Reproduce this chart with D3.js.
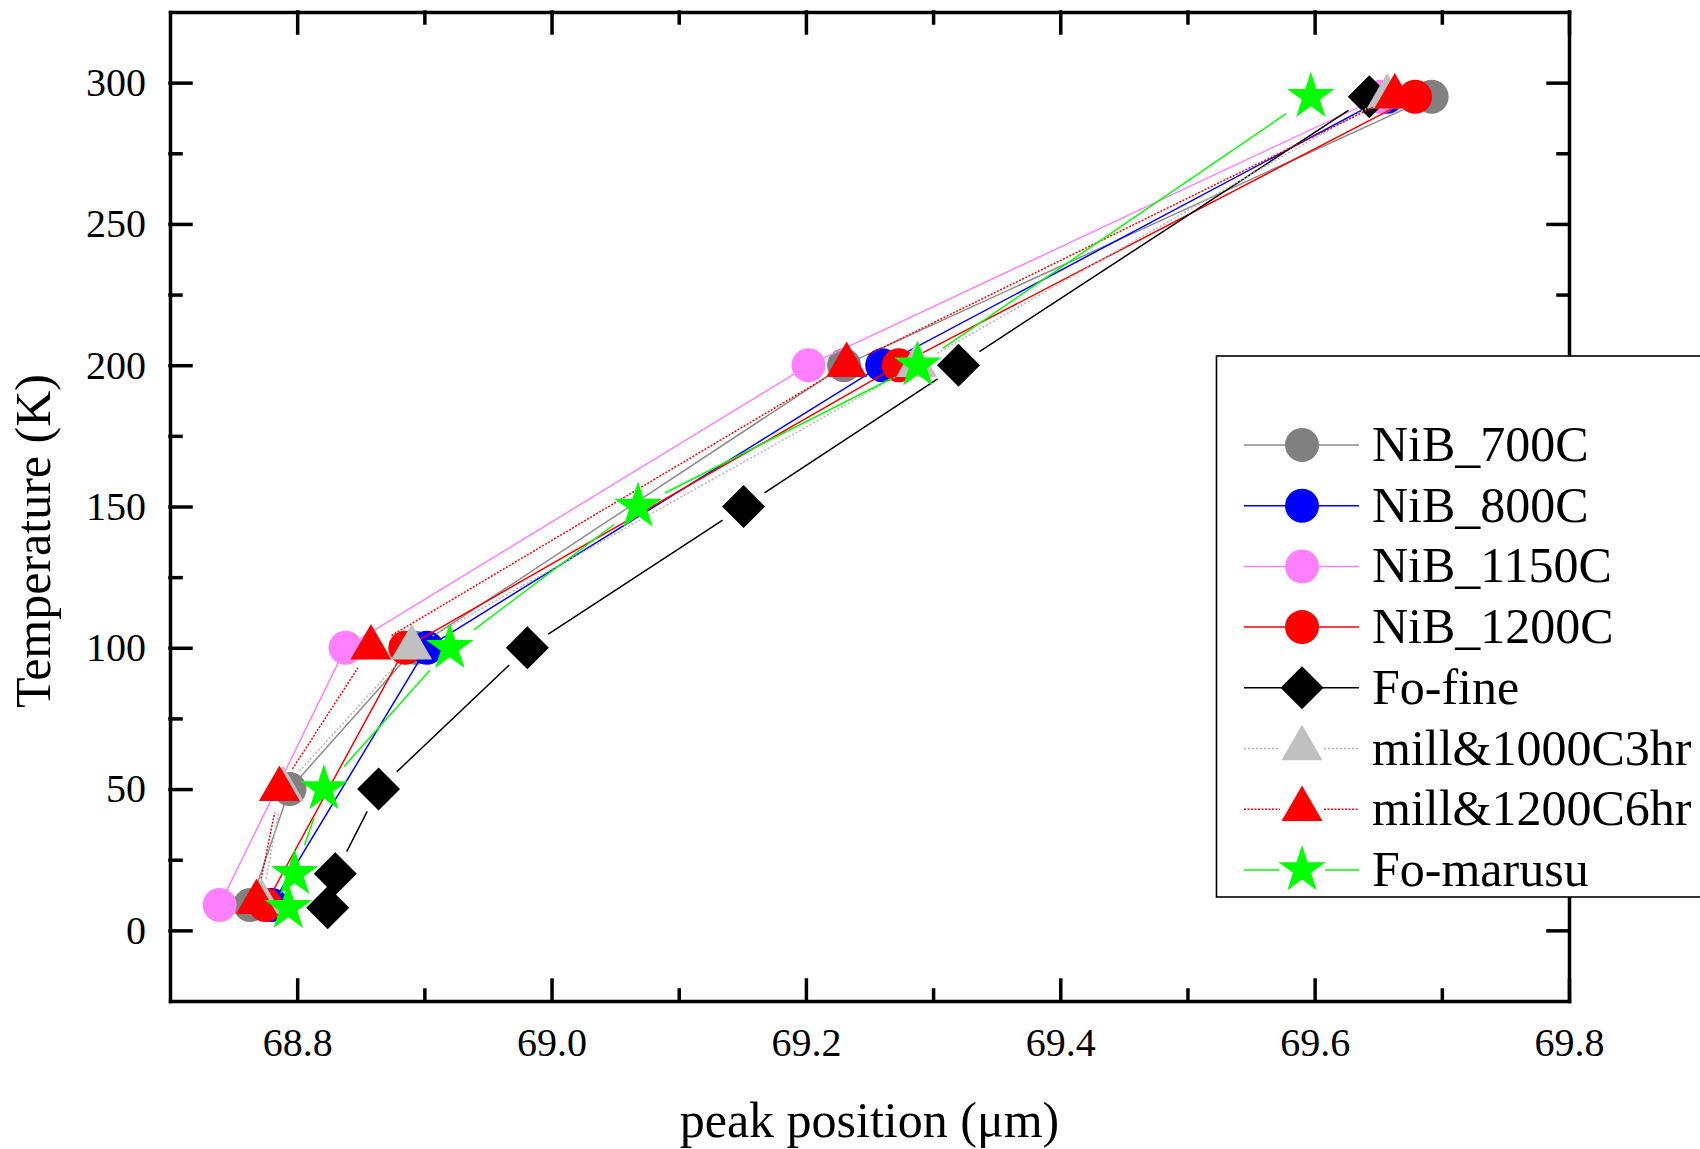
<!DOCTYPE html>
<html lang="en">
<head>
<meta charset="UTF-8">
<title>Temperature vs peak position</title>
<script src="https://d3js.org/d3.v7.min.js"></script>
<style>
    body {
        margin: 0;
        background: #fff;
    }
    svg {
        display: block;
        font-family: "Times New Roman", "Liberation Serif", serif;
    }
    .axis path, .axis line {
        stroke: #000;
        stroke-width: 3.5px;
        stroke-linecap: square;
    }
    .axis text {
        font-size: 40px;
        fill: #000;
        font-family: "Times New Roman", "Liberation Serif", serif;
    }
    .legend text {
        font-size: 50px;
        fill: #000;
    }
</style>
</head>
<body>
<svg width="1700" height="1149"></svg>
<script>
    // values: temperature (K) and peak position (um)
    const seriesNames = ["NiB_700C", "NiB_800C", "NiB_1150C", "NiB_1200C",
                         "Fo-fine", "mill&1000C3hr", "mill&1200C6hr", "Fo-marusu"];

    const tempNiB700 = [9, 50, 100, 200, 295];
    const posNiB700  = [68.763, 68.794, 68.893, 69.230, 69.692];

    const tempNiB800 = [9, 100, 200, 295];
    const posNiB800  = [68.780, 68.902, 69.260, 69.657];

    const tempNiB1150 = [9, 100, 200, 295];
    const posNiB1150  = [68.739, 68.838, 69.202, 69.652];

    const tempNiB1200 = [9, 100, 200, 295];
    const posNiB1200  = [68.775, 68.885, 69.273, 69.679];

    const tempFoFine = [8, 20, 50, 100, 150, 200, 295];
    const posFoFine  = [68.824, 68.830, 68.864, 68.981, 69.151, 69.320, 69.643];

    const tempMill1000 = [10, 50, 100, 200, 295];
    const posMill1000  = [68.772, 68.789, 68.890, 69.287, 69.657];

    const tempMill1200 = [10, 50, 100, 200, 295];
    const posMill1200  = [68.768, 68.786, 68.858, 69.232, 69.663];

    const tempFoMarusu = [8, 20, 50, 100, 150, 200, 295];
    const posFoMarusu  = [68.793, 68.798, 68.821, 68.920, 69.068, 69.288, 69.597];

    const xMajorTicks = [68.8, 69.0, 69.2, 69.4, 69.6, 69.8];
    const xMinorTicks = [68.9, 69.1, 69.3, 69.5, 69.7];
    const yMajorTicks = [0, 50, 100, 150, 200, 250, 300];
    const yMinorTicks = [25, 75, 125, 175, 225, 275];

    const temps = [tempNiB700, tempNiB800, tempNiB1150, tempNiB1200,
                   tempFoFine, tempMill1000, tempMill1200, tempFoMarusu];
    const positions = [posNiB700, posNiB800, posNiB1150, posNiB1200,
                       posFoFine, posMill1000, posMill1200, posFoMarusu];

    // styles
    const styles = [
        { color: "#808080", line: "#8c8c8c", shape: "circle",   dash: null },
        { color: "#0000ff", line: "#0000ff", shape: "circle",   dash: null },
        { color: "#ff80ff", line: "#ff80ff", shape: "circle",   dash: null },
        { color: "#ff0000", line: "#ff0000", shape: "circle",   dash: null },
        { color: "#000000", line: "#000000", shape: "diamond",  dash: null },
        { color: "#c0c0c0", line: "#b4b4b4", shape: "triangle", dash: "2,2" },
        { color: "#ff0000", line: "#ff0000", shape: "triangle", dash: "2,1.5" },
        { color: "#00ff00", line: "#00ff00", shape: "star",     dash: null }
    ];
    const gaps = { circle: 16, diamond: 25, triangle: 24, star: 30 };

    const svg = d3.select("svg");
    const plotLeft = 170, plotRight = 1569, plotTop = 12, plotBottom = 1001;

    const x = d3.scaleLinear().domain([68.7, 69.8]).range([plotLeft, plotRight]);
    const y = d3.scaleLinear().domain([-25, 325]).range([plotBottom, plotTop]);

    function symbolPath(shape) {
        if (shape === "circle") return d3.symbol(d3.symbolCircle, Math.PI * 17 * 17)();
        if (shape === "diamond") return d3.symbol(d3.symbolSquare, 2 * 21.5 * 21.5)();
        if (shape === "triangle") {
            const h = 41 / (2 * Math.sqrt(3));
            return d3.symbol(d3.symbolTriangle, h * h * 3 * Math.sqrt(3))();
        }
        return d3.symbol(d3.symbolStar, 25 * 25 / 0.8908130915292852)();
    }

    // axes
    function addAxis(axis, tx, ty, labels) {
        const g = svg.append("g")
            .attr("class", "axis")
            .attr("transform", `translate(${tx},${ty})`)
            .call(axis);
        if (!labels) g.selectAll("text").remove();
        return g;
    }

    addAxis(d3.axisBottom(x).tickValues(xMajorTicks).tickSizeInner(-21).tickSizeOuter(0)
        .tickPadding(27).tickFormat(d3.format(".1f")), 0, plotBottom, true);
    addAxis(d3.axisBottom(x).tickValues(xMinorTicks).tickSizeInner(-11).tickSizeOuter(0), 0, plotBottom, false)
        .select(".domain").remove();
    addAxis(d3.axisTop(x).tickValues(xMajorTicks).tickSizeInner(-21).tickSizeOuter(0), 0, plotTop, false);
    addAxis(d3.axisTop(x).tickValues(xMinorTicks).tickSizeInner(-11).tickSizeOuter(0), 0, plotTop, false)
        .select(".domain").remove();

    addAxis(d3.axisLeft(y).tickValues(yMajorTicks).tickSizeInner(-21).tickSizeOuter(0)
        .tickPadding(24).tickFormat(d3.format("d")), plotLeft, 0, true);
    addAxis(d3.axisLeft(y).tickValues(yMinorTicks).tickSizeInner(-11).tickSizeOuter(0), plotLeft, 0, false)
        .select(".domain").remove();
    addAxis(d3.axisRight(y).tickValues(yMajorTicks).tickSizeInner(-21).tickSizeOuter(0), plotRight, 0, false);
    addAxis(d3.axisRight(y).tickValues(yMinorTicks).tickSizeInner(-11).tickSizeOuter(0), plotRight, 0, false)
        .select(".domain").remove();

    // axis titles
    svg.append("text")
        .attr("x", (plotLeft + plotRight) / 2)
        .attr("y", 1137)
        .attr("text-anchor", "middle")
        .attr("font-size", 50)
        .text("peak position (μm)");

    svg.append("text")
        .attr("transform", "translate(50,541) rotate(-90)")
        .attr("text-anchor", "middle")
        .attr("font-size", 50)
        .text("Temperature (K)");

    // series: line segments with a gap around each marker, then markers
    const plot = svg.append("g");
    seriesNames.forEach((name, i) => {
        const st = styles[i];
        const pts = temps[i].map((t, j) => [x(positions[i][j]), y(t)]);
        const gap = gaps[st.shape];
        const segs = [];
        for (let j = 0; j < pts.length - 1; j++) {
            const [x0, y0] = pts[j], [x1, y1] = pts[j + 1];
            const len = Math.hypot(x1 - x0, y1 - y0);
            if (len <= 2 * gap) continue;
            const ux = (x1 - x0) / len, uy = (y1 - y0) / len;
            segs.push([x0 + ux * gap, y0 + uy * gap, x1 - ux * gap, y1 - uy * gap]);
        }
        const g = plot.append("g");
        g.selectAll("line")
            .data(segs)
            .enter()
            .append("line")
            .attr("x1", d => d[0]).attr("y1", d => d[1])
            .attr("x2", d => d[2]).attr("y2", d => d[3])
            .attr("stroke", st.line)
            .attr("stroke-width", 1.5)
            .attr("stroke-dasharray", st.dash);
        g.selectAll("path")
            .data(pts)
            .enter()
            .append("path")
            .attr("d", symbolPath(st.shape))
            .attr("transform", d => `translate(${d[0]},${d[1]})` + (st.shape === "diamond" ? " rotate(45)" : ""))
            .attr("fill", st.color);
    });

    // legend
    const legend = svg.append("g").attr("class", "legend");
    legend.append("rect")
        .attr("x", 1216.5).attr("y", 356)
        .attr("width", 600).attr("height", 541)
        .attr("fill", "#fff")
        .attr("stroke", "#000")
        .attr("stroke-width", 1.6);

    const legendGap = { circle: 0, diamond: 0, triangle: 22, star: 23 };
    seriesNames.forEach((name, i) => {
        const st = styles[i];
        const cy = 445 + i * 60.7, cx = 1302;
        const lg = legendGap[st.shape];
        const item = legend.append("g");
        [[1244, cx - lg], [cx + lg, 1359]].forEach(([a, b]) => {
            item.append("line")
                .attr("x1", a).attr("x2", b)
                .attr("y1", cy).attr("y2", cy)
                .attr("stroke", st.line)
                .attr("stroke-width", 1.5)
                .attr("stroke-dasharray", st.dash);
        });
        item.append("path")
            .attr("d", symbolPath(st.shape))
            .attr("transform", `translate(${cx},${cy})` + (st.shape === "diamond" ? " rotate(45)" : ""))
            .attr("fill", st.color);
        item.append("text")
            .attr("x", 1372)
            .attr("y", cy + 16)
            .text(name);
    });
</script>
</body>
</html>
